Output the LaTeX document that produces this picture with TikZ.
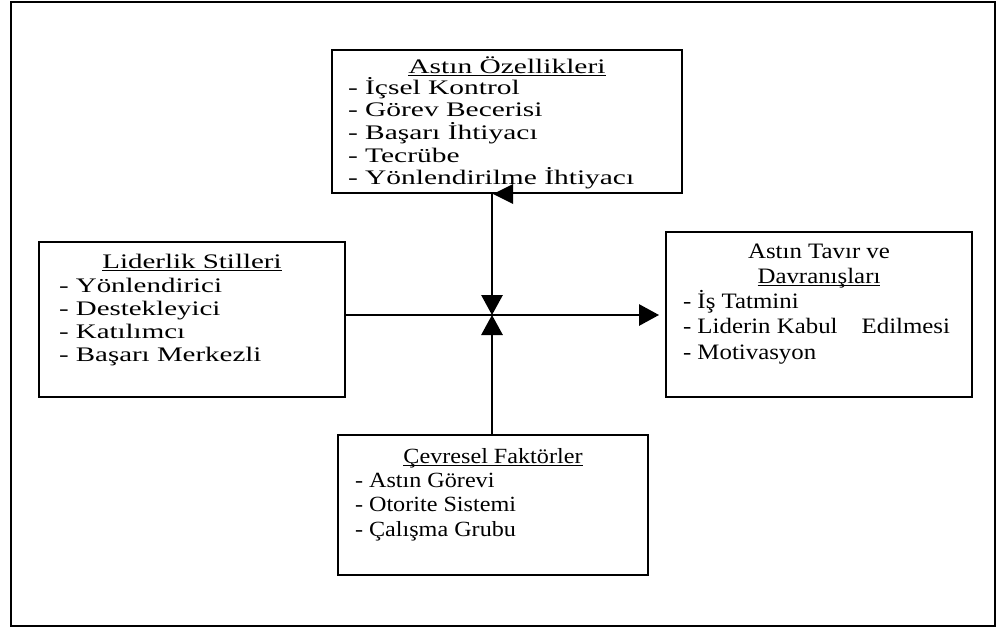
\documentclass[tikz,border=0pt]{standalone}
\usepackage{fontspec}
\setmainfont{Liberation Serif}
% the four boxes use the same serif at slightly different widths
\newfontfamily\fontTop[FakeStretch=1.425]{Liberation Serif}
\newfontfamily\fontLeft[FakeStretch=1.40]{Liberation Serif}
\newfontfamily\fontRight[FakeStretch=1.13]{Liberation Serif}
\newfontfamily\fontBot[FakeStretch=1.115]{Liberation Serif}
\usetikzlibrary{arrows.meta}
\newsavebox\ulbox
% underline at a fixed depth below the baseline, independent of descenders
\newcommand\ulword[1]{\sbox\ulbox{#1}\rlap{\rule[-2.2pt]{\wd\ulbox}{1pt}}\usebox\ulbox}
\begin{document}
\begin{tikzpicture}[x=0.75pt,y=-0.75pt,
  box/.style={draw=black, line width=1.1pt, inner sep=0pt, outer sep=0pt},
  txt/.style={inner sep=0pt, outer sep=0pt},
  head/.style={txt, anchor=base},
  items/.style={txt, anchor=base west},
  topfont/.style={font=\fontTop\fontsize{15.5pt}{17pt}\selectfont},
  leftfont/.style={font=\fontLeft\fontsize{15.5pt}{17.4pt}\selectfont},
  rightfont/.style={font=\fontRight\fontsize{16.5pt}{19.3pt}\selectfont},
  botfont/.style={font=\fontBot\fontsize{16.25pt}{18.6pt}\selectfont},
  link/.style={line width=1.4pt},
  tip/.style={-{Triangle[length=15pt,width=16pt]}}
]
\useasboundingbox (0,0) rectangle (996,628);
\draw[line width=1pt] (11,2) rectangle (995,626);

% boxes
\node[box, minimum width=262.5pt, minimum height=107.25pt] (top) at (507,121.5) {};
\node[box, minimum width=229.5pt, minimum height=116.25pt] (left) at (192,319.5) {};
\node[box, minimum width=229.5pt, minimum height=123.75pt] (right) at (819,314.5) {};
\node[box, minimum width=232.5pt, minimum height=105pt] (bot) at (493,505) {};

% texts of the upper box
\node[head,topfont] (topHead) at (507,73) {\ulword{Astın Özellikleri}};
\node[items,topfont] (topList) at (348,94) {\parbox[t]{400pt}{\raggedright
  - İçsel Kontrol\\- Görev Becerisi\\- Başarı İhtiyacı\\- Tecrübe\\- Yönlendirilme İhtiyacı}};

% texts of the left box
\node[head,leftfont] (leftHead) at (192,268) {\ulword{Liderlik Stilleri}};
\node[items,leftfont] (leftList) at (59,292) {\parbox[t]{400pt}{\raggedright
  - Yönlendirici\\- Destekleyici\\- Katılımcı\\- Başarı Merkezli}};

% texts of the right box
\node[head,rightfont] (rightHead) at (819,258) {Astın Tavır ve};
\node[head,rightfont] (rightHead2) at (819,283) {\ulword{Davranışları}};
\node[items,rightfont] (rightList) at (683,308) {\parbox[t]{400pt}{\raggedright
  - İş Tatmini\\\makebox[134pt][l]{- Liderin Kabul}Edilmesi\\- Motivasyon}};

% texts of the lower box
\node[head,botfont] (botHead) at (493,463) {\ulword{Çevresel Faktörler}};
\node[items,botfont] (botList) at (355,487) {\parbox[t]{400pt}{\raggedright
  - Astın Görevi\\- Otorite Sistemi\\- Çalışma Grubu}};

% connectors meeting in the middle
\coordinate (hub) at (492,315);
\coordinate (topEnd) at (top.south -| hub);
\draw[link,tip] (topEnd) -- (hub);
\draw[link,tip] (bot.north -| hub) -- (hub);
\draw[link,tip,shorten >=5.25pt] (left.east |- hub) -- (right.west |- hub);
\fill (topEnd) ++(1,1) -- ++(20,-10) -- ++(0,20) -- cycle;
\end{tikzpicture}
\end{document}
